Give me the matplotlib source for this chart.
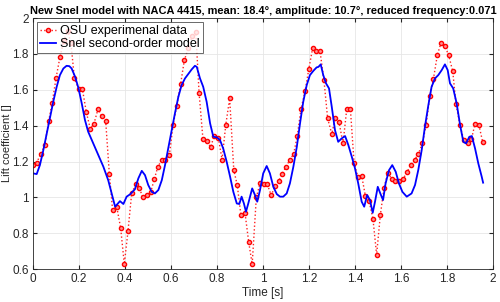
import matplotlib
matplotlib.use("Agg")
import matplotlib.pyplot as plt
from matplotlib.ticker import FuncFormatter

plt.rcParams['font.family'] = ['Liberation Sans', 'DejaVu Sans']

# OSU experimental data (time [s], lift coefficient)
t_exp = [0.000, 0.016, 0.033, 0.051, 0.068, 0.083, 0.100, 0.117, 0.133, 0.150,
         0.165, 0.180, 0.199, 0.215, 0.232, 0.249, 0.265, 0.283, 0.299, 0.316,
         0.332, 0.346, 0.364, 0.381, 0.397, 0.413, 0.429, 0.446, 0.462, 0.478,
         0.496, 0.512, 0.527, 0.543, 0.560, 0.575, 0.593, 0.609, 0.625, 0.642,
         0.658, 0.675, 0.692, 0.708, 0.722, 0.739, 0.757, 0.772, 0.788, 0.806,
         0.822, 0.838, 0.855, 0.873, 0.888, 0.904, 0.922, 0.938, 0.953, 0.971,
         0.987, 1.003, 1.019, 1.036, 1.052, 1.068, 1.084, 1.100, 1.117, 1.133,
         1.149, 1.165, 1.183, 1.199, 1.216, 1.232, 1.248, 1.265, 1.281, 1.299,
         1.314, 1.330, 1.348, 1.364, 1.380, 1.396, 1.413, 1.429, 1.445, 1.461,
         1.478, 1.494, 1.510, 1.526, 1.542, 1.560, 1.575, 1.593, 1.609, 1.626,
         1.643, 1.659, 1.675, 1.693, 1.709, 1.725, 1.741, 1.758, 1.774, 1.790,
         1.807, 1.825, 1.839, 1.857, 1.873, 1.890, 1.906, 1.922, 1.939, 1.955]
cl_exp = [1.182, 1.193, 1.241, 1.290, 1.424, 1.524, 1.664, 1.782, 1.870, 1.930,
          1.860, 1.664, 1.602, 1.602, 1.474, 1.383, 1.411, 1.494, 1.452, 1.426,
          1.130, 0.931, 0.948, 0.830, 0.628, 0.812, 1.022, 1.072, 1.052, 1.000,
          1.015, 1.030, 1.100, 1.171, 1.210, 1.210, 1.238, 1.402, 1.511, 1.634,
          1.765, 1.831, 1.900, 1.920, 1.584, 1.323, 1.312, 1.281, 1.342, 1.332,
          1.211, 1.403, 1.552, 1.152, 1.069, 0.900, 0.911, 0.749, 0.628, 1.000,
          1.078, 1.072, 1.072, 1.011, 1.063, 1.091, 1.132, 1.171, 1.210, 1.241,
          1.342, 1.491, 1.593, 1.714, 1.834, 1.814, 1.814, 1.654, 1.441, 1.353,
          1.442, 1.422, 1.301, 1.492, 1.492, 1.193, 1.112, 1.121, 1.009, 0.981,
          0.881, 0.680, 0.900, 1.050, 1.137, 1.102, 1.091, 1.091, 1.102, 1.141,
          1.180, 1.210, 1.241, 1.301, 1.402, 1.563, 1.661, 1.794, 1.862, 1.846,
          1.794, 1.703, 1.520, 1.402, 1.318, 1.301, 1.323, 1.411, 1.402, 1.310]

# Snel second-order model
t_mod = [0.000, 0.016, 0.030, 0.045, 0.060, 0.074, 0.088, 0.103, 0.117, 0.132,
         0.146, 0.158, 0.168, 0.183, 0.197, 0.212, 0.226, 0.240, 0.262, 0.284,
         0.306, 0.327, 0.342, 0.357, 0.367, 0.378, 0.393, 0.407, 0.422, 0.443,
         0.458, 0.473, 0.487, 0.501, 0.516, 0.530, 0.545, 0.560, 0.574, 0.588,
         0.603, 0.617, 0.632, 0.646, 0.661, 0.675, 0.690, 0.704, 0.712, 0.726,
         0.740, 0.755, 0.770, 0.784, 0.799, 0.813, 0.827, 0.842, 0.857, 0.871,
         0.886, 0.897, 0.907, 0.917, 0.926, 0.936, 0.953, 0.965, 0.975, 0.987,
         1.001, 1.016, 1.030, 1.045, 1.060, 1.074, 1.088, 1.103, 1.117, 1.132,
         1.147, 1.161, 1.175, 1.190, 1.204, 1.219, 1.233, 1.241, 1.251, 1.262,
         1.274, 1.287, 1.299, 1.313, 1.327, 1.342, 1.357, 1.371, 1.386, 1.400,
         1.414, 1.429, 1.440, 1.453, 1.465, 1.477, 1.487, 1.499, 1.510, 1.522,
         1.533, 1.548, 1.562, 1.577, 1.591, 1.606, 1.625, 1.646, 1.661, 1.675,
         1.690, 1.704, 1.719, 1.733, 1.748, 1.762, 1.777, 1.791, 1.803, 1.813,
         1.827, 1.842, 1.857, 1.871, 1.883, 1.897, 1.908, 1.922, 1.936, 1.951,
         1.957]
cl_mod = [1.134, 1.130, 1.180, 1.264, 1.357, 1.446, 1.533, 1.617, 1.682, 1.719,
          1.734, 1.732, 1.719, 1.673, 1.613, 1.524, 1.431, 1.366, 1.301, 1.236,
          1.171, 1.096, 1.022, 0.948, 0.963, 0.979, 0.963, 1.004, 1.017, 1.045,
          1.106, 1.148, 1.124, 1.069, 1.031, 1.022, 1.041, 1.096, 1.180, 1.273,
          1.375, 1.468, 1.561, 1.626, 1.664, 1.688, 1.714, 1.734, 1.728, 1.664,
          1.617, 1.533, 1.413, 1.338, 1.335, 1.320, 1.273, 1.199, 1.115, 1.031,
          0.966, 0.963, 1.004, 0.966, 0.920, 0.966, 1.050, 1.013, 0.976, 1.041,
          1.134, 1.175, 1.134, 1.059, 1.018, 1.004, 1.004, 1.022, 1.078, 1.171,
          1.282, 1.413, 1.533, 1.626, 1.682, 1.706, 1.725, 1.728, 1.742, 1.682,
          1.636, 1.608, 1.505, 1.375, 1.310, 1.329, 1.342, 1.292, 1.227, 1.162,
          1.078, 0.976, 0.948, 1.013, 0.985, 0.914, 0.976, 1.059, 1.022, 0.985,
          1.078, 1.152, 1.180, 1.143, 1.078, 1.031, 1.004, 1.022, 1.069, 1.152,
          1.264, 1.394, 1.515, 1.617, 1.664, 1.682, 1.710, 1.742, 1.710, 1.636,
          1.608, 1.524, 1.403, 1.310, 1.301, 1.338, 1.342, 1.273, 1.190, 1.115,
          1.082]

x_ticks = [0, 0.2, 0.4, 0.6, 0.8, 1, 1.2, 1.4, 1.6, 1.8, 2]
y_ticks = [0.6, 0.8, 1, 1.2, 1.4, 1.6, 1.8, 2]

fig = plt.figure(figsize=(5, 3.02), dpi=100)
ax = fig.add_axes([0.066, 0.109, 0.920, 0.831])

ax.plot(t_exp, cl_exp, color='#ff2020', linestyle=':', linewidth=1.0,
        marker='o', markersize=3, markeredgewidth=1.0,
        markerfacecolor='#ff9090', markeredgecolor='red',
        label='OSU experimenal data')
ax.plot(t_mod, cl_mod, color='blue', linewidth=1.3,
        label='Snel second-order model')

ax.set_xlim(0, 2)
ax.set_ylim(0.6, 2)
ax.set_xticks(x_ticks)
ax.set_yticks(y_ticks)
ax.xaxis.set_major_formatter(FuncFormatter(lambda v, p: '%g' % v))
ax.yaxis.set_major_formatter(FuncFormatter(lambda v, p: '%g' % v))
ax.tick_params(direction='in', length=3, labelsize=8.5, colors='#262626',
               top=True, right=True, pad=3)
ax.grid(True, color='#e6e6e6', linewidth=0.6)
ax.set_axisbelow(True)
for sp in ax.spines.values():
    sp.set_color('#262626')
    sp.set_linewidth(0.6)

ax.set_xlabel('Time [s]', fontsize=8.5, labelpad=1, color='#262626')
ax.set_ylabel('Lift coefficient []', fontsize=8, color='#262626')
ax.yaxis.set_label_coords(-0.046, 0.5)
ax.set_title('New Snel model with NACA 4415, mean: 18.4°, amplitude: 10.7°, reduced frequency:0.071',
             fontsize=7.9, fontweight='bold', pad=3)

leg = ax.legend(loc='upper left', fontsize=9, frameon=True, fancybox=False,
                borderpad=0.25, handlelength=1.3, handletextpad=0.3,
                labelspacing=0.1, borderaxespad=0.3, edgecolor='#262626')
leg.get_frame().set_linewidth(0.6)

fig.savefig('out.png', dpi=100)
